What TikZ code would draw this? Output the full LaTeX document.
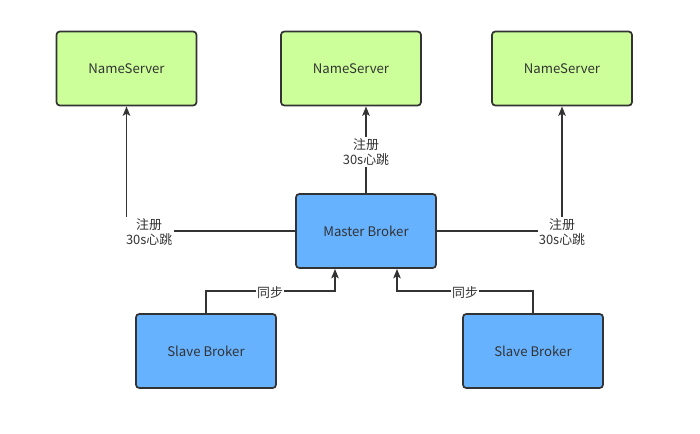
\documentclass[tikz,border=0pt]{standalone}
\usepackage{fontspec}
\setmainfont{Noto Sans CJK SC}
\usetikzlibrary{arrows.meta}
\tikzset{
  box/.style={draw=black!80, line width=1.3pt, rounded corners=2.5pt, minimum width=105pt, minimum height=55.5pt, inner sep=0pt, font=\fontsize{9.9}{11}\selectfont, text=black!80},
  nsbox/.style={box, fill=nsgreen},
  brbox/.style={box, fill=brblue},
  link/.style={draw=black!80, line width=1.4pt},
  linkarrow/.style={link, -{Stealth[length=7pt,width=5.5pt,inset=1.5pt]}},
  lbl/.style={fill=white, inner sep=1pt, align=center, font=\fontsize{9.7}{11.5}\selectfont, text=black!80}
}
\definecolor{nsgreen}{HTML}{CCFF99}
\definecolor{brblue}{HTML}{66B2FF}
\begin{document}
\begin{tikzpicture}[x=0.75pt, y=-0.75pt]
  \useasboundingbox (0,0) rectangle (700,434);

  % NameServer boxes
  \node [nsbox] (ns1) at (126.5,68.5) {NameServer};
  \node [nsbox] (ns2) at (351,68.5) {NameServer};
  \node [nsbox] (ns3) at (562,68.5) {NameServer};

  % Broker boxes
  \node [brbox] (master) at (366,231) {Master Broker};
  \node [brbox] (slave1) at (206,351) {Slave Broker};
  \node [brbox] (slave2) at (533,351) {Slave Broker};

  % Drawing register links
  \coordinate (c1) at (ns1.south |- master.west);
  \coordinate (c3) at (ns3.south |- master.east);
  \draw [linkarrow] (master.west) -- (c1) -- (ns1.south);
  \draw [linkarrow] (master.north) -- (master.north |- ns2.south);
  \draw [linkarrow] (master.east) -- (c3) -- (ns3.south);
  \node [lbl] (r1) at ([xshift=17pt,yshift=-0.75pt]c1) {注册\\30s心跳};
  \node [lbl] (r2) at (366,152) {注册\\30s心跳};
  \node [lbl] (r3) at ([yshift=-0.75pt]c3) {注册\\30s心跳};

  % Drawing sync links
  \coordinate (s1a) at (206,291);
  \coordinate (s1b) at (335,291);
  \coordinate (s2a) at (533,291);
  \coordinate (s2b) at (397,291);
  \draw [linkarrow] (slave1.north) -- (s1a) -- (s1b) -- (s1b |- master.south);
  \draw [linkarrow] (slave2.north) -- (s2a) -- (s2b) -- (s2b |- master.south);
  \node [lbl] (y1) at (270,293) {同步};
  \node [lbl] (y2) at (465,293) {同步};
\end{tikzpicture}
\end{document}
